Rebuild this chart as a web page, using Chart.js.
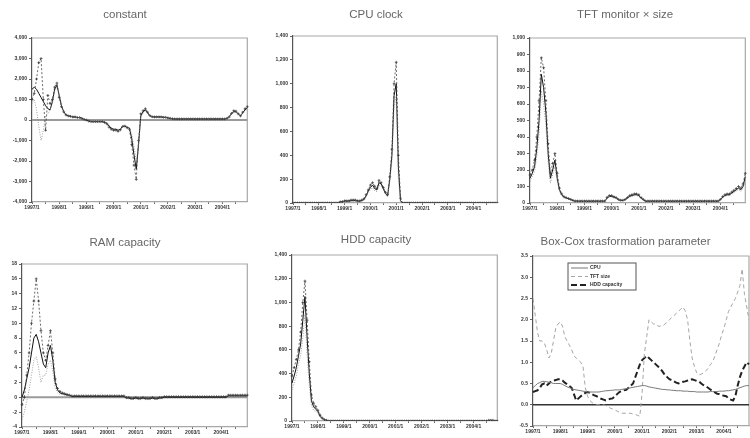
<!DOCTYPE html>
<html>
<head>
<meta charset="utf-8">
<script src="https://cdn.jsdelivr.net/npm/chart.js@4.4.0/dist/chart.umd.min.js"></script>
<style>
    body { margin: 0; background: #fff; width: 750px; height: 438px; position: relative; overflow: hidden; }
    .panel { position: absolute; }
</style>
</head>
<body>
<div class="panel" style="left:0;top:0"><canvas id="c1" width="252" height="215"></canvas></div>
<div class="panel" style="left:252px;top:0"><canvas id="c2" width="250" height="215"></canvas></div>
<div class="panel" style="left:502px;top:0"><canvas id="c3" width="248" height="215"></canvas></div>
<div class="panel" style="left:0;top:215px"><canvas id="c4" width="252" height="223"></canvas></div>
<div class="panel" style="left:252px;top:215px"><canvas id="c5" width="250" height="223"></canvas></div>
<div class="panel" style="left:502px;top:215px"><canvas id="c6" width="248" height="223"></canvas></div>
<script>
/* ============================
   HEDONIC COEFFICIENTS - 6 PANELS
============================ */

// ---------- DATA ----------
const startYear = 1997;
const nMonths = 96;

// constant
const constEst = [1500,1600,1500,1300,1100,900,700,550,500,900,1500,1700,
    1200,700,400,250,200,180,150,150,120,120,80,30,
    0,-50,-80,-80,-80,-80,-80,-80,-100,-150,-300,-400,
    -450,-450,-500,-450,-300,-300,-350,-400,-900,-1700,-2400,-1200,
    200,400,500,350,200,150,150,150,150,150,130,130,
    100,80,60,50,50,50,50,50,50,50,50,50,
    50,50,50,50,50,50,50,50,50,50,50,50,
    50,50,80,150,300,400,400,300,200,350,500,600];
const constHi = [1000,1300,2000,2800,3000,1000,-500,1200,800,1000,1600,1800,
    1100,650,400,250,200,180,150,150,120,120,80,30,
    0,-50,-80,-80,-80,-80,-80,-80,-120,-180,-350,-450,
    -500,-500,-550,-480,-320,-300,-380,-450,-1200,-2200,-2900,-1000,
    300,450,550,380,220,160,150,150,150,150,130,130,
    100,80,60,50,50,50,50,50,50,50,50,50,
    50,50,50,50,50,50,50,50,50,50,50,50,
    50,50,80,150,320,450,430,300,200,380,550,650];
const constLo = [800,1000,500,-300,-1000,-500,200,300,500,800,1400,1600,
    1300,750,420,260,200,180,150,150,120,120,80,30,
    0,-50,-80,-80,-80,-80,-80,-80,-90,-130,-260,-360,
    -420,-420,-460,-420,-280,-300,-330,-380,-700,-1300,-2000,-1300,
    100,350,450,330,190,150,150,150,150,150,130,130,
    100,80,60,50,50,50,50,50,50,50,50,50,
    50,50,50,50,50,50,50,50,50,50,50,50,
    50,50,80,140,280,360,380,300,200,330,460,560];

// CPU clock
const cpuEst = [0,0,0,0,0,0,0,0,0,0,0,0,
    0,0,0,0,0,0,0,0,0,0,10,10,
    15,15,15,20,20,20,15,15,20,30,60,100,
    130,150,120,110,170,160,120,80,60,200,400,900,
    1000,300,20,0,0,0,0,0,0,0,0,0,
    0,0,0,0,0,0,0,0,0,0,0,0,
    0,0,0,0,0,0,0,0,0,0,0,0,
    0,0,0,0,0,0,0,0,0,0,0,0];
const cpuHi = [0,0,0,0,0,0,0,0,0,0,0,0,
    0,0,0,0,0,0,0,0,0,0,10,12,
    18,18,18,25,25,25,18,18,25,35,70,110,
    150,170,140,120,190,170,130,90,70,220,450,1000,
    1180,400,40,0,0,0,0,0,0,0,0,0,
    0,0,0,0,0,0,0,0,0,0,0,0,
    0,0,0,0,0,0,0,0,0,0,0,0,
    0,0,0,0,0,0,0,0,0,0,0,0];
const cpuLo = [0,0,0,0,0,0,0,0,0,0,0,0,
    0,0,0,0,0,0,0,0,0,0,8,8,
    12,12,12,15,15,15,12,12,15,25,50,90,
    110,130,100,95,150,140,110,70,50,180,350,800,
    900,200,0,0,0,0,0,0,0,0,0,0,
    0,0,0,0,0,0,0,0,0,0,0,0,
    0,0,0,0,0,0,0,0,0,0,0,0,
    0,0,0,0,0,0,0,0,0,0,0,0];

// TFT monitor x size
const tftEst = [150,180,220,330,500,780,700,550,300,150,200,260,
    150,80,50,35,30,25,20,15,10,10,10,10,
    10,10,10,10,10,10,10,10,10,10,30,40,
    40,35,30,20,15,15,20,30,40,45,50,50,
    45,30,20,10,10,10,10,10,10,10,10,10,
    10,10,10,10,10,10,10,10,10,10,10,10,
    10,10,10,10,10,10,10,10,10,10,10,10,
    20,35,45,50,50,60,70,80,90,80,100,160];
const tftHi = [170,200,260,400,620,880,820,620,360,180,240,300,
    180,90,55,38,32,27,22,16,12,12,12,12,
    12,12,12,12,12,12,12,12,12,12,34,45,
    45,38,33,22,17,17,22,33,45,50,55,55,
    50,33,22,12,12,12,12,12,12,12,12,12,
    12,12,12,12,12,12,12,12,12,12,12,12,
    12,12,12,12,12,12,12,12,12,12,12,12,
    22,38,50,55,55,66,77,88,100,90,115,180];
const tftLo = [130,160,190,280,420,680,600,470,250,120,170,220,
    130,70,45,32,28,23,18,14,9,9,9,9,
    9,9,9,9,9,9,9,9,9,9,27,36,
    36,32,27,18,13,13,18,27,36,40,45,45,
    40,27,18,9,9,9,9,9,9,9,9,9,
    9,9,9,9,9,9,9,9,9,9,9,9,
    9,9,9,9,9,9,9,9,9,9,9,9,
    18,32,40,45,45,54,63,72,80,70,90,140];

// RAM capacity
const ramEst = [0,1,2.5,4,6,8,8.5,7.5,6,4.5,4,6,
    7,5,2,1,0.6,0.5,0.4,0.3,0.3,0.1,0.1,0.1,
    0.1,0.1,0.1,0.1,0.1,0.1,0.1,0.1,0.1,0.1,0.1,0.1,
    0.1,0.1,0.1,0.1,0.1,0.1,0.1,0.1,-0.1,-0.1,-0.2,-0.2,
    -0.1,-0.2,-0.2,-0.1,-0.2,-0.2,-0.2,-0.1,-0.2,-0.2,-0.1,-0.1,
    0,0,0,0,0,0,0,0,0,0,0,0,
    0,0,0,0,0,0,0,0,0,0,0,0,
    0,0,0,0.2,0.2,0.2,0.2,0.2,0.2,0.2,0.2,0.2];
const ramHi = [-1,0,3,6,10,13,16,13,9,6,5,7,
    9,6,2.5,1.2,0.8,0.6,0.5,0.4,0.3,0.2,0.2,0.2,
    0.2,0.2,0.2,0.2,0.2,0.2,0.2,0.2,0.2,0.2,0.2,0.2,
    0.2,0.2,0.2,0.2,0.2,0.2,0.2,0.2,0,0,-0.1,-0.1,
    0,-0.1,-0.1,0,-0.1,-0.1,-0.1,0,-0.1,-0.1,0,0,
    0.1,0.1,0.1,0.1,0.1,0.1,0.1,0.1,0.1,0.1,0.1,0.1,
    0.1,0.1,0.1,0.1,0.1,0.1,0.1,0.1,0.1,0.1,0.1,0.1,
    0.1,0.1,0.1,0.3,0.3,0.3,0.3,0.3,0.3,0.3,0.3,0.3];
const ramLo = [-3,-2,-0.5,1,3,5,5.5,4,2,3,3,4.5,
    5,3.5,1.2,0.7,0.4,0.4,0.3,0.2,0.2,0,0,0,
    0,0,0,0,0,0,0,0,0,0,0,0,
    0,0,0,0,0,0,0,0,-0.2,-0.2,-0.3,-0.3,
    -0.2,-0.3,-0.3,-0.2,-0.3,-0.3,-0.3,-0.2,-0.3,-0.3,-0.2,-0.2,
    -0.1,-0.1,-0.1,-0.1,-0.1,-0.1,-0.1,-0.1,-0.1,-0.1,-0.1,-0.1,
    -0.1,-0.1,-0.1,-0.1,-0.1,-0.1,-0.1,-0.1,-0.1,-0.1,-0.1,-0.1,
    -0.1,-0.1,-0.1,0.1,0.1,0.1,0.1,0.1,0.1,0.1,0.1,0.1];

// HDD capacity
const hddEst = [320,380,450,550,650,850,1050,700,400,170,120,100,
    80,40,20,10,5,0,0,0,0,0,0,0,
    0,0,0,0,0,0,0,0,0,0,0,0,
    0,0,0,0,0,0,0,0,0,0,0,0,
    0,0,0,0,0,0,0,0,0,0,0,0,
    0,0,0,0,0,0,0,0,0,0,0,0,
    0,0,0,0,0,0,0,0,0,0,0,0,
    0,0,0,0,0,0,0,5,5,5,0,0];
const hddHi = [380,450,520,600,750,1000,1180,850,500,220,150,120,
    90,50,25,12,6,0,0,0,0,0,0,0,
    0,0,0,0,0,0,0,0,0,0,0,0,
    0,0,0,0,0,0,0,0,0,0,0,0,
    0,0,0,0,0,0,0,0,0,0,0,0,
    0,0,0,0,0,0,0,0,0,0,0,0,
    0,0,0,0,0,0,0,0,0,0,0,0,
    0,0,0,0,0,0,0,6,6,6,0,0];
const hddLo = [260,320,380,480,550,700,900,560,300,130,90,80,
    70,30,15,8,4,0,0,0,0,0,0,0,
    0,0,0,0,0,0,0,0,0,0,0,0,
    0,0,0,0,0,0,0,0,0,0,0,0,
    0,0,0,0,0,0,0,0,0,0,0,0,
    0,0,0,0,0,0,0,0,0,0,0,0,
    0,0,0,0,0,0,0,0,0,0,0,0,
    0,0,0,0,0,0,0,4,4,4,0,0];

// Box-Cox parameter
const boxCoxLabels = ["CPU", "TFT size", "HDD capacity"];
const bcCpu = [0.40,0.45,0.50,0.52,0.55,0.55,0.54,0.53,0.52,0.50,0.50,0.50,
    0.50,0.48,0.45,0.42,0.40,0.38,0.36,0.35,0.34,0.33,0.32,0.31,
    0.30,0.30,0.30,0.30,0.30,0.30,0.31,0.32,0.33,0.33,0.34,0.34,
    0.35,0.35,0.35,0.36,0.37,0.38,0.39,0.40,0.41,0.42,0.43,0.44,
    0.45,0.45,0.44,0.42,0.41,0.40,0.39,0.38,0.37,0.36,0.36,0.35,
    0.35,0.34,0.34,0.33,0.33,0.33,0.32,0.32,0.32,0.31,0.31,0.31,
    0.30,0.30,0.30,0.30,0.30,0.30,0.31,0.31,0.31,0.31,0.32,0.32,
    0.32,0.33,0.33,0.34,0.35,0.36,0.38,0.40,0.42,0.44,0.45,0.45];
const bcTft = [2.5,2.1,1.7,1.5,1.5,1.45,1.3,1.1,1.2,1.5,1.8,1.9,
    1.95,1.85,1.6,1.5,1.4,1.3,1.15,1.1,1.05,1.0,0.9,0.4,
    0.2,0.1,0.05,0.02,0.0,0.0,0.0,0.0,-0.02,-0.05,-0.08,-0.1,
    -0.12,-0.15,-0.18,-0.2,-0.2,-0.2,-0.2,-0.2,-0.22,-0.23,-0.25,-0.27,
    0.3,1.2,1.6,2.0,1.95,1.9,1.9,1.85,1.85,1.85,1.9,1.95,
    2.0,2.05,2.1,2.15,2.2,2.25,2.3,2.2,2.0,1.5,1.1,0.9,
    0.75,0.7,0.72,0.75,0.8,0.85,0.95,1.0,1.15,1.3,1.45,1.65,
    1.8,2.0,2.2,2.3,2.4,2.5,2.65,2.8,3.2,2.6,2.3,2.0];
const bcHdd = [0.30,0.32,0.34,0.40,0.48,0.50,0.45,0.50,0.55,0.57,0.58,0.60,
    0.60,0.57,0.52,0.48,0.44,0.40,0.25,0.10,0.15,0.20,0.24,0.28,
    0.30,0.28,0.25,0.22,0.20,0.17,0.14,0.12,0.10,0.12,0.14,0.15,
    0.20,0.25,0.30,0.32,0.34,0.35,0.40,0.45,0.50,0.65,0.80,0.95,
    1.05,1.10,1.15,1.10,1.05,1.00,0.95,0.90,0.85,0.78,0.70,0.65,
    0.60,0.58,0.55,0.52,0.50,0.52,0.54,0.55,0.57,0.59,0.60,0.58,
    0.56,0.55,0.50,0.46,0.43,0.40,0.36,0.32,0.29,0.26,0.25,0.23,
    0.21,0.20,0.15,0.12,0.10,0.20,0.45,0.65,0.80,0.90,1.00,0.95];

// ---------- MONTH LABELS ----------
const months = [];
for (let i = 0; i < nMonths; i++) {
    months.push((startYear + Math.floor(i / 12)) + "/" + (i % 12 + 1));
}

// ---------- PLUGINS ----------
const framePlugin = {
    id: "frame",
    beforeDatasetsDraw(chart, args, opts) {
        const a = chart.chartArea, c = chart.ctx;
        c.save();
        c.strokeStyle = "#a8a8a8";
        c.lineWidth = 1.2;
        c.beginPath();
        c.moveTo(a.left, a.top); c.lineTo(a.right, a.top); c.lineTo(a.right, a.bottom);
        c.stroke();
        if (opts.zero) {
            const y = chart.scales.y.getPixelForValue(0);
            c.strokeStyle = opts.zeroColor || "#9a9a9a";
            c.lineWidth = opts.zeroWidth || 2;
            c.beginPath(); c.moveTo(a.left, y); c.lineTo(a.right, y); c.stroke();
        }
        c.restore();
    }
};

const boxLegendPlugin = {
    id: "boxLegend",
    afterDraw(chart, args, opts) {
        if (!opts.show) return;
        const c = chart.ctx;
        const x = 66, y = 48, w = 68, h = 27;
        c.save();
        c.fillStyle = "#fff";
        c.fillRect(x, y, w, h);
        c.strokeStyle = "#555";
        c.lineWidth = 1;
        c.strokeRect(x, y, w, h);
        chart.data.datasets.forEach((ds, i) => {
            const ly = y + 5 + i * 8.5;
            c.strokeStyle = ds.borderColor;
            c.lineWidth = ds.borderWidth;
            c.setLineDash(ds.borderDash || []);
            c.beginPath(); c.moveTo(x + 3, ly); c.lineTo(x + 20, ly); c.stroke();
            c.setLineDash([]);
            c.fillStyle = "#333";
            c.font = "bold 5px 'Liberation Sans', Arial, sans-serif";
            c.textBaseline = "middle";
            c.fillText(ds.label, x + 22, ly);
        });
        c.restore();
    }
};

// ---------- PANEL BUILDER ----------
function bandSets(est, hi, lo) {
    return [
        { label: "lower", data: lo, borderColor: "#8a8a8a", borderWidth: 0.8, borderDash: [1, 1.5], pointRadius: 0 },
        { label: "upper", data: hi, borderColor: "#444", borderWidth: 0.8, borderDash: [2, 2],
          pointStyle: "cross", pointRadius: 1.4, pointBorderWidth: 0.7, pointBorderColor: "#333" },
        { label: "estimate", data: est, borderColor: "#111", borderWidth: 1, pointRadius: 0 }
    ];
}

function makePanel(id, title, datasets, y, box, extra) {
    const fs = 11.5;
    const tickFont = { size: 5, weight: "bold", family: "'Liberation Sans', Arial, sans-serif" };
    return new Chart(document.getElementById(id), {
        type: "line",
        data: { labels: months, datasets: datasets },
        options: {
            responsive: false,
            animation: false,
            layout: { padding: { top: 0, right: box.padR, bottom: 0, left: 0 } },
            elements: { line: { tension: 0 } },
            plugins: {
                legend: { display: false },
                tooltip: { enabled: false },
                title: {
                    display: true,
                    text: title,
                    color: "#666",
                    font: { size: fs, family: "'Liberation Sans', Arial, sans-serif", weight: "normal", lineHeight: 1.2 },
                    padding: { top: box.titleY - fs * 0.6, bottom: box.top - box.titleY - fs * 0.6 }
                },
                frame: extra.frame || {},
                boxLegend: extra.legend || {}
            },
            scales: {
                x: {
                    afterFit(s) { s.height = box.xh; },
                    border: { color: "#a8a8a8", width: 1.2 },
                    grid: {
                        drawOnChartArea: false,
                        tickLength: 2,
                        color: ctx => (ctx.index % 6 === 0 ? "#666" : "transparent")
                    },
                    ticks: {
                        autoSkip: false,
                        maxRotation: 0,
                        padding: 1,
                        color: "#333",
                        font: tickFont,
                        callback: (v, i) => (i % 12 === 0 ? months[i] : "")
                    }
                },
                y: {
                    min: y.min, max: y.max,
                    afterFit(s) { s.width = box.yw; },
                    border: { color: "#555", width: 1.2 },
                    grid: { drawOnChartArea: false, tickLength: 3, color: "#666" },
                    ticks: {
                        stepSize: y.step,
                        autoSkip: false,
                        padding: 2,
                        color: "#333",
                        font: tickFont,
                        callback: y.fmt || (v => v.toLocaleString("en-US"))
                    }
                }
            }
        },
        plugins: [framePlugin, boxLegendPlugin]
    });
}

// ---------- MAIN INIT ----------
makePanel("c1", "constant", bandSets(constEst, constHi, constLo),
    { min: -4000, max: 4000, step: 1000 },
    { yw: 32, xh: 13, padR: 2, titleY: 15, top: 38 },
    { frame: { zero: true } });

makePanel("c2", "CPU clock", bandSets(cpuEst, cpuHi, cpuLo),
    { min: 0, max: 1400, step: 200 },
    { yw: 41, xh: 12, padR: 2, titleY: 15, top: 36 }, {});

makePanel("c3", "TFT monitor \u00d7 size", bandSets(tftEst, tftHi, tftLo),
    { min: 0, max: 1000, step: 100 },
    { yw: 28, xh: 12, padR: 2, titleY: 15, top: 38 }, {});

makePanel("c4", "RAM capacity", bandSets(ramEst, ramHi, ramLo),
    { min: -4, max: 18, step: 2 },
    { yw: 22, xh: 11, padR: 2, titleY: 28, top: 49 },
    { frame: { zero: true } });

makePanel("c5", "HDD capacity", bandSets(hddEst, hddHi, hddLo),
    { min: 0, max: 1400, step: 200 },
    { yw: 40, xh: 17, padR: 2, titleY: 25, top: 40 }, {});

makePanel("c6", "Box-Cox trasformation parameter", [
        { label: boxCoxLabels[0], data: bcCpu, borderColor: "#777", borderWidth: 1, pointRadius: 0 },
        { label: boxCoxLabels[1], data: bcTft, borderColor: "#a5a5a5", borderWidth: 1, borderDash: [4, 3], pointRadius: 0 },
        { label: boxCoxLabels[2], data: bcHdd, borderColor: "#222", borderWidth: 2, borderDash: [6, 3], pointRadius: 0 }
    ],
    { min: -0.5, max: 3.5, step: 0.5, fmt: v => v.toFixed(1) },
    { yw: 31, xh: 12, padR: 1, titleY: 27, top: 41 },
    { frame: { zero: true, zeroColor: "#333", zeroWidth: 1.5 }, legend: { show: true } });
</script>
</body>
</html>
